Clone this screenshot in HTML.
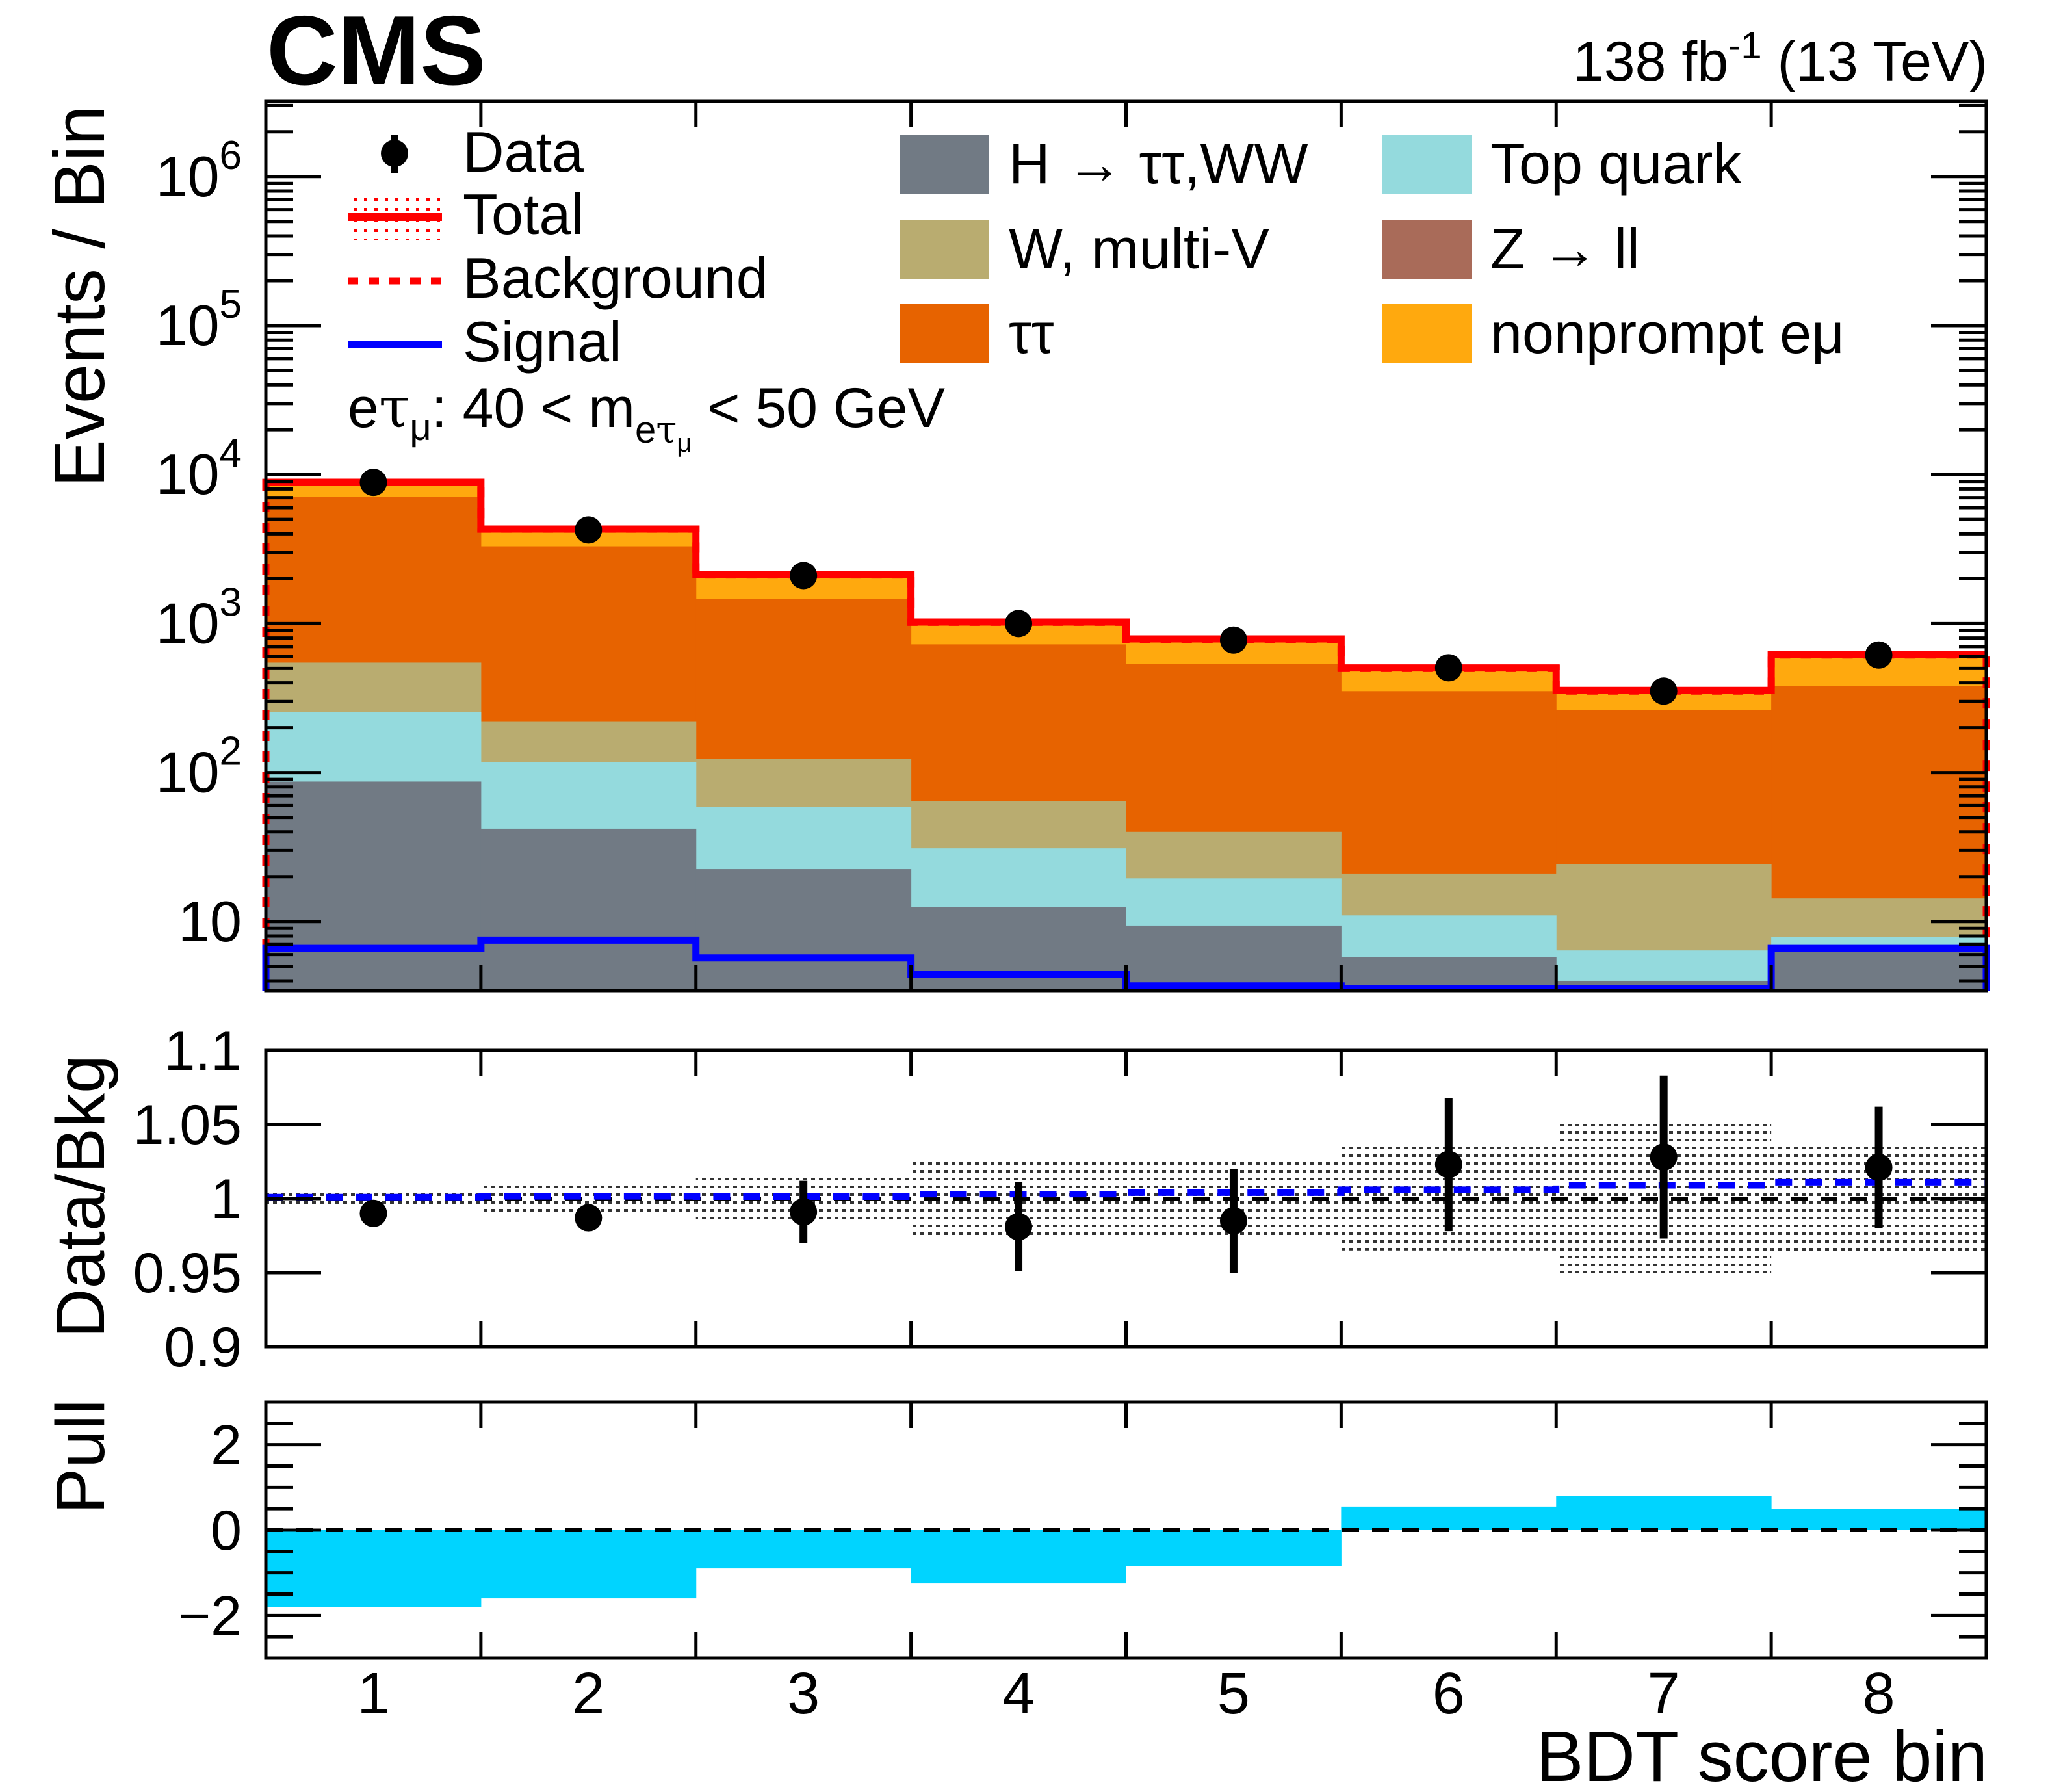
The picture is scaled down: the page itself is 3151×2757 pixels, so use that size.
<!DOCTYPE html>
<html><head><meta charset="utf-8">
<style>
html,body{margin:0;padding:0;background:#fff;}
svg{display:block;font-family:"Liberation Sans",sans-serif;}
</style></head>
<body>
<svg id="c" width="3151" height="2757" viewBox="0 0 3151 2757" xmlns="http://www.w3.org/2000/svg">
<g id="main"></g>
<g id="ratio"></g>
<g id="pull"></g>
<g id="txt">
<text x="410" y="130" font-size="152" font-weight="bold">CMS</text>
<text x="3058" y="124" font-size="86" text-anchor="end">138 fb<tspan dy="-34" font-size="58">-1</tspan><tspan dy="34"> (13 TeV)</tspan></text>
<text transform="translate(160,456) rotate(-90)" font-size="110" text-anchor="middle">Events / Bin</text>
<text transform="translate(160,1841) rotate(-90)" font-size="106" text-anchor="middle">Data/Bkg</text>
<text transform="translate(160,2241) rotate(-90)" font-size="106" text-anchor="middle">Pull</text>
<text x="3058" y="2740" font-size="110" text-anchor="end">BDT score bin</text>
</g>
<g id="legend">
<g>
<line x1="607" y1="207" x2="607" y2="266" stroke="#000" stroke-width="12"/>
<circle cx="607" cy="236" r="21" fill="#000"/>
<text x="712" y="264" font-size="88">Data</text></g>
<g>
<rect x="535" y="303" width="145" height="66" fill="url(#rdots)"/>
<line x1="535" y1="334" x2="680" y2="334" stroke="#f00" stroke-width="12"/>
<text x="712" y="360" font-size="88">Total</text></g>
<g>
<line x1="535" y1="432" x2="680" y2="432" stroke="#f00" stroke-width="11" stroke-dasharray="16 16"/>
<text x="712" y="458" font-size="88">Background</text></g>
<g>
<line x1="535" y1="530" x2="680" y2="530" stroke="#00f" stroke-width="12"/>
<text x="712" y="556" font-size="88">Signal</text></g>
<text x="535" y="657" font-size="86">e<tspan font-family="'DejaVu Serif',serif">τ</tspan><tspan dy="20" font-size="58">μ</tspan><tspan dy="-20">: 40 &lt; m</tspan><tspan dy="24" font-size="58">e<tspan font-family="'DejaVu Serif',serif">τ</tspan></tspan><tspan dy="14" font-size="40">μ</tspan><tspan dy="-38"> &lt; 50 GeV</tspan></text>
<g><rect x="1384" y="207" width="138" height="91" fill="#717a84"/><text x="1552" y="282" font-size="88">H → ττ,WW</text></g>
<g><rect x="1384" y="338" width="138" height="91" fill="#b9ac70"/><text x="1552" y="413" font-size="88">W, multi-V</text></g>
<g><rect x="1384" y="468" width="138" height="91" fill="#e76300"/><text x="1552" y="543" font-size="88">ττ</text></g>
<g><rect x="2127" y="207" width="138" height="91" fill="#94dadd"/><text x="2293" y="282" font-size="88">Top quark</text></g>
<g><rect x="2127" y="338" width="138" height="91" fill="#a96b59"/><text x="2293" y="413" font-size="88">Z → ll</text></g>
<g><rect x="2127" y="468" width="138" height="91" fill="#ffa90e"/><text x="2293" y="543" font-size="88">nonprompt eμ</text></g>
</g>
</svg>
<script>
const bins = [1,2,3,4,5,6,7,8];
const higgs = [87,42,22.5,12.5,9.4,5.8,4,6.6];
const topq = [168,75,36.5,18.5,10.1,5.2,2.4,1.3];
const wmulti = [292,102,64,33,20.5,10,17.8,6.4];
const tautau = [6553,3081,1337,661,497,331,239,366];
const nonprompt = [1770,1000,660,295,248,148,89,235];
const zll = [0.5,0.3,0.2,0.1,0.1,0.1,0.1,0.1];
const signal = [6.6,7.5,5.7,4.4,3.7,3.55,3.55,6.6];
const data = [8870,4250,2100,1000,775,505,352,615];
const ratio = [0.990,0.987,0.991,0.981,0.985,1.023,1.028,1.021];
const ratioErr = [0.008,0.009,0.021,0.030,0.035,0.045,0.055,0.041];
const bandErr = [0.007,0.010,0.017,0.025,0.028,0.035,0.050,0.036];
const sigRatio = [1.001,1.0015,1.0013,1.003,1.004,1.006,1.009,1.011];
const pull = [-1.8,-1.6,-0.9,-1.25,-0.85,0.55,0.8,0.5];
const mainTicks = [1,2,3,4,5,6];
const ratioTicks = ["0.9","0.95","1","1.05","1.1"];
const pullTicks = [-2,0,2];

const NS="http://www.w3.org/2000/svg";
const X0=409,X1=3056;
const MT=156,MB=1524,RT=1616,RB=2072,PT=2157,PB=2551;
const LMIN=Math.log10(3.44),LMAX=Math.log10(3.2e6);
function xs(b){return X0+(b-0.5)*(X1-X0)/8;}
function ym(v){return MB-(Math.log10(Math.max(v,3.44))-LMIN)/(LMAX-LMIN)*(MB-MT);}
function yr(v){return RB-(v-0.9)/0.2*(RB-RT);}
function yp(v){return PB-(v+3)/6*(PB-PT);}
function el(p,tag,a){const e=document.createElementNS(NS,tag);for(const k in a)e.setAttribute(k,a[k]);p.appendChild(e);return e;}
const svg=document.getElementById('c');
const defs=el(svg,'defs',{});
const pat=el(defs,'pattern',{id:'dots',width:12,height:12,patternUnits:'userSpaceOnUse'});
el(pat,'rect',{x:0,y:0,width:6,height:4,fill:'#333'});
const pat2=el(defs,'pattern',{id:'rdots',width:16,height:16,patternUnits:'userSpaceOnUse'});
el(pat2,'rect',{x:0,y:0,width:5,height:5,fill:'#f00'});
const gm=document.getElementById('main'),gr=document.getElementById('ratio'),gp=document.getElementById('pull');

const comps=[[higgs,'#717a84','stack-higgs'],[topq,'#94dadd','stack-top'],[wmulti,'#b9ac70','stack-wmultiv'],[tautau,'#e76300','stack-tautau'],[nonprompt,'#ffa90e','stack-nonprompt'],[zll,'#a96b59','stack-zll']];
const cum=bins.map(()=>0);
const tops=comps.map(c=>bins.map((b,i)=>cum[i]+=c[0][i]));
for(let k=comps.length-1;k>=0;k--){
  bins.forEach((b,i)=>{
    const r=el(gm,'rect',{x:xs(b-0.5),y:ym(tops[k][i]),width:xs(b+0.5)-xs(b-0.5)+0.5,height:MB-ym(tops[k][i]),fill:comps[k][1]});
    
    
  });
}
const total=bins.map((b,i)=>cum[i]+signal[i]);
function stepPath(vals,f){let d='';bins.forEach((b,i)=>{const y=f(vals[i]);d+=(i?'L':'M')+xs(b-0.5)+','+y+'L'+xs(b+0.5)+','+y;});return d;}
let bp=el(gm,'path',{d:'M'+X0+','+MB+'L'+stepPath(cum,ym).slice(1)+'L'+X1+','+MB,fill:'none',stroke:'#f00','stroke-width':11,'stroke-dasharray':'16 16'});


let tp=el(gm,'path',{d:stepPath(total,ym),fill:'none',stroke:'#f00','stroke-width':11});


let sp=el(gm,'path',{d:'M'+X0+','+MB+'L'+stepPath(signal,ym).slice(1)+'L'+X1+','+MB,fill:'none',stroke:'#00f','stroke-width':11});


bins.forEach((b,i)=>{
  const c=el(gm,'circle',{cx:xs(b),cy:ym(data[i]),r:21,fill:'#000'});
  
  
});
for(let d=0;d<=6;d++)for(let m=1;m<=9;m++){
  const v=m*Math.pow(10,d);const y=ym(v);if(v<3.44||y<MT)continue;
  const L=m==1?85:42;
  el(gm,'line',{x1:X0,y1:y,x2:X0+L,y2:y,stroke:'#000','stroke-width':5});
  el(gm,'line',{x1:X1,y1:y,x2:X1-L,y2:y,stroke:'#000','stroke-width':5});
}
mainTicks.forEach(p=>{
  const t=el(gm,'text',{x:372,y:ym(Math.pow(10,p))+30,'font-size':88,'text-anchor':'end'});
  
  
  if(p==1){t.textContent='10';}else{t.innerHTML='10<tspan dy="-42" font-size="62">'+p+'</tspan>';}
});
function frame(g,t,b,name){
  const r=el(g,'rect',{x:X0,y:t,width:X1-X0,height:b-t,fill:'none',stroke:'#000','stroke-width':5});
  
  
  for(let k=1;k<8;k++){const x=xs(k+0.5);el(g,'line',{x1:x,y1:t,x2:x,y2:t+40,stroke:'#000','stroke-width':5});el(g,'line',{x1:x,y1:b,x2:x,y2:b-40,stroke:'#000','stroke-width':5});}
}
frame(gm,MT,MB,'main-frame');

bins.forEach((b,i)=>{
  const r=el(gr,'rect',{x:xs(b-0.5),y:yr(1+bandErr[i]),width:xs(b+0.5)-xs(b-0.5),height:yr(1-bandErr[i])-yr(1+bandErr[i]),fill:'url(#dots)'});
  
  
});
el(gr,'line',{x1:X0,y1:yr(1),x2:X1,y2:yr(1),stroke:'#000','stroke-width':6,'stroke-dasharray':'26 20'});
let sr=el(gr,'path',{d:stepPath(sigRatio,yr),fill:'none',stroke:'#00f','stroke-width':10,'stroke-dasharray':'26 20'});


bins.forEach((b,i)=>{
  el(gr,'line',{x1:xs(b),y1:yr(ratio[i]+ratioErr[i]),x2:xs(b),y2:yr(ratio[i]-ratioErr[i]),stroke:'#000','stroke-width':12});
  const c=el(gr,'circle',{cx:xs(b),cy:yr(ratio[i]),r:21,fill:'#000'});
  
  
});
ratioTicks.forEach(s=>{
  const y=yr(parseFloat(s));
  el(gr,'line',{x1:X0,y1:y,x2:X0+85,y2:y,stroke:'#000','stroke-width':5});
  el(gr,'line',{x1:X1,y1:y,x2:X1-85,y2:y,stroke:'#000','stroke-width':5});
  const t=el(gr,'text',{x:372,y:y+30,'font-size':86,'text-anchor':'end'});t.textContent=s;
  
  
});
frame(gr,RT,RB,'ratio-frame');

bins.forEach((b,i)=>{
  const y0=yp(0),y1=yp(pull[i]);
  const r=el(gp,'rect',{x:xs(b-0.5),y:Math.min(y0,y1),width:xs(b+0.5)-xs(b-0.5)+0.5,height:Math.abs(y1-y0),fill:'#00d4ff'});
  
  
});
el(gp,'line',{x1:X0,y1:yp(0),x2:X1,y2:yp(0),stroke:'#000','stroke-width':6,'stroke-dasharray':'26 20'});
for(let v=-2.5;v<=2.51;v+=0.5){const y=yp(v);const L=(Math.abs(v)%2==0)?85:42;
  el(gp,'line',{x1:X0,y1:y,x2:X0+L,y2:y,stroke:'#000','stroke-width':5});
  el(gp,'line',{x1:X1,y1:y,x2:X1-L,y2:y,stroke:'#000','stroke-width':5});}
pullTicks.forEach(v=>{
  const t=el(gp,'text',{x:372,y:yp(v)+30,'font-size':86,'text-anchor':'end'});t.textContent=v<0?'−'+(-v):String(v);
  
  
});
frame(gp,PT,PB,'pull-frame');
bins.forEach(b=>{
  const t=el(gp,'text',{x:xs(b),y:2636,'font-size':90,'text-anchor':'middle'});t.textContent=String(b);
  
  
});
</script>
</body></html>
